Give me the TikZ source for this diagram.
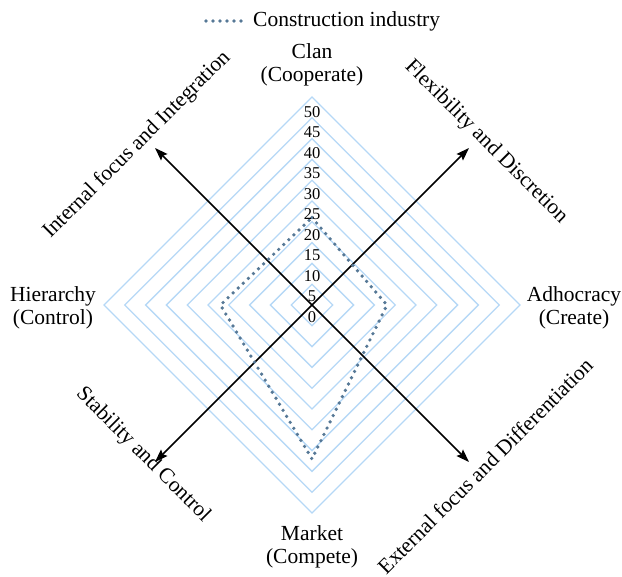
\documentclass[tikz,border=0pt]{standalone}
\usepackage{fontspec}
\setmainfont{Liberation Serif}
\usetikzlibrary{arrows.meta}
\definecolor{ringblue}{RGB}{182,216,246}
\definecolor{datablue}{RGB}{86,120,150}
\begin{document}
\begin{tikzpicture}[x=1pt,y=-1pt,
  ring/.style={draw=ringblue,line width=1.3pt},
  axisarrow/.style={draw=black,line width=1.5pt,{Stealth[length=13pt,width=9pt,inset=2pt]}-{Stealth[length=13pt,width=9pt,inset=2pt]}},
  dataline/.style={draw=datablue,line width=3.7pt,line cap=round,dash pattern=on 0pt off 7pt},
  catlabel/.style={font=\fontsize{21.5}{23.5}\selectfont,align=center,inner sep=0pt},
  axlabel/.style={font=\fontsize{21.5}{24}\selectfont,inner sep=0pt},
  numlabel/.style={font=\fontsize{16.5}{18}\selectfont,inner sep=0pt}]
\useasboundingbox (0,0) rectangle (622,577);
\coordinate (C) at (312,305);
% rings
\foreach \v in {5,10,...,50}{
  \pgfmathsetmacro{\r}{\v*4.16}
  \draw[ring] (312,305-\r) -- (312+\r,305) -- (312,305+\r) -- (312-\r,305) -- cycle;
}
% axes
\coordinate (ul) at (155,148);
\coordinate (lr) at (469,462);
\coordinate (ll) at (155,462);
\coordinate (ur) at (469,148);
\draw[axisarrow] (ll) -- (ur);
\draw[axisarrow] (ul) -- (lr);
% data
\coordinate (dT) at (312,217.6);
\coordinate (dR) at (386.9,305);
\coordinate (dB) at (312,459);
\coordinate (dL) at (220.5,305);
\draw[dataline] (dT) -- (dR) -- (dB) -- (dL) -- cycle;
% numbers
\foreach \v in {0,5,...,50}{
  \node[numlabel] (n\v) at (312,316.7-\v*4.1) {\v};
}
% category labels
\node[catlabel] (clan) at (312,65) {Clan\\(Cooperate)};
\node[catlabel] (market) at (312,547) {Market\\(Compete)};
\node[catlabel] (hier) at (53,308) {Hierarchy\\(Control)};
\node[catlabel] (adho) at (574,308) {Adhocracy\\(Create)};
% axis labels
\node[axlabel,rotate=45] (internal) at (137,145) {Internal focus and Integration};
\node[axlabel,rotate=-45] (flex) at (486,142) {Flexibility and Discretion};
\node[axlabel,rotate=-45] (stab) at (143,455) {Stability and Control};
\node[axlabel,rotate=45] (ext) at (485,466) {External focus and Differentiation};
% legend
\coordinate (lgA) at (206,21);
\coordinate (lgB) at (248,21);
\draw[dataline] (lgA) -- (lgB);
\node[axlabel,anchor=west] (legend) at (253,21) {Construction industry};
\end{tikzpicture}
\end{document}
